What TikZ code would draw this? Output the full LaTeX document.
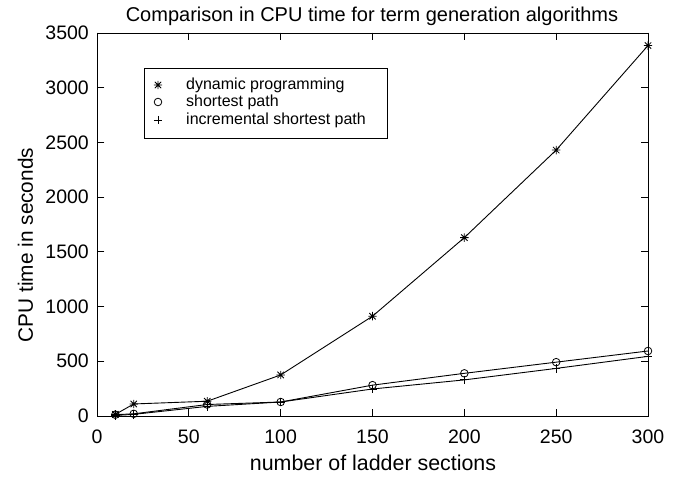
\documentclass[tikz,border=0pt]{standalone}
\usepackage{fontspec}
\setmainfont{Liberation Sans}
\begin{document}
\begin{tikzpicture}[x=1pt,y=-1pt,
  ax/.style={line width=0.9pt,line cap=rect},
  dl/.style={line width=0.9pt},
  mk/.style={line width=0.8pt},
  tlab/.style={font=\fontsize{19.5}{20}\selectfont,inner sep=0pt},
  alab/.style={font=\fontsize{21.4}{22}\selectfont,inner sep=0pt},
  ylabst/.style={font=\fontsize{20.8}{22}\selectfont,inner sep=0pt},
  ttl/.style={font=\fontsize{20}{22}\selectfont,inner sep=0pt},
  llab/.style={font=\fontsize{16}{18}\selectfont,inner sep=0pt,anchor=west},
  mstar/.pic={\draw[mk] (-4.2,0)--(4.2,0) (0,-4.2)--(0,4.2) (-3.2,-3.2)--(3.2,3.2) (-3.2,3.2)--(3.2,-3.2);},
  mcirc/.pic={\draw[mk] (0,0) circle (3.8);},
  mplus/.pic={\draw[mk] (-4.2,0)--(4.2,0) (0,-4.2)--(0,4.2);}
]
\useasboundingbox (0,0) rectangle (687,476);
\fill[white] (0,0) rectangle (687,476);
% axes corners
\coordinate (BL) at (97,416);
\coordinate (TR) at (648,33);
\draw[ax] (BL) rectangle (TR);
% x ticks
\foreach \v in {0,50,...,300}{
  \pgfmathsetmacro{\xx}{97+1.836667*\v}
  \draw[ax] (\xx,416) -- (\xx,409);
  \draw[ax] (\xx,33) -- (\xx,40);
  \node[tlab] (xt\v) at (\xx,437) {\v};
}
% y ticks
\foreach \v in {0,500,...,3500}{
  \pgfmathsetmacro{\yy}{416-0.109429*\v}
  \draw[ax] (97,\yy) -- (104,\yy);
  \draw[ax] (648,\yy) -- (641,\yy);
  \node[tlab,anchor=east] (yt\v) at (89,\yy) {\v};
}
% labels
\node[ttl] (title) at (372,16) {Comparison in CPU time for term generation algorithms};
\node[alab] (xlab) at (373,463) {number of ladder sections};
\node[ylabst,rotate=90] (ylab) at (25.5,245) {CPU time in seconds};
% data points
\foreach \x/\a/\b/\c [count=\i] in {10/15/12/5,20/110/20/15,60/135/105/88,100/375/128/128,150/912/282/247,200/1630/390/330,250/2430/492/435,300/3385/594/545}{
  \coordinate (dp\i) at ({97+1.836667*\x},{416-0.109429*\a});
  \coordinate (sp\i) at ({97+1.836667*\x},{416-0.109429*\b});
  \coordinate (isp\i) at ({97+1.836667*\x},{416-0.109429*\c});
}
\draw[dl] (dp1)--(dp2)--(dp3)--(dp4)--(dp5)--(dp6)--(dp7)--(dp8);
\draw[dl] (sp1)--(sp2)--(sp3)--(sp4)--(sp5)--(sp6)--(sp7)--(sp8);
\draw[dl] (isp1)--(isp2)--(isp3)--(isp4)--(isp5)--(isp6)--(isp7)--(isp8);
\foreach \i in {1,...,8}{
  \pic at (dp\i) {mstar};
  \pic at (sp\i) {mcirc};
  \pic at (isp\i) {mplus};
}
% legend
\node[draw,line width=0.9pt,minimum width=243pt,minimum height=70pt,anchor=north west,inner sep=0pt] (leg) at (144,68) {};
\coordinate (lm1) at (158,85);
\coordinate (lm2) at (158,102);
\coordinate (lm3) at (158,120);
\pic at (lm1) {mstar};
\pic at (lm2) {mcirc};
\pic at (lm3) {mplus};
\node[llab] (l1) at (186,85) {dynamic programming};
\node[llab] (l2) at (186,102) {shortest path};
\node[llab] (l3) at (186,120) {incremental shortest path};
\end{tikzpicture}
\end{document}
